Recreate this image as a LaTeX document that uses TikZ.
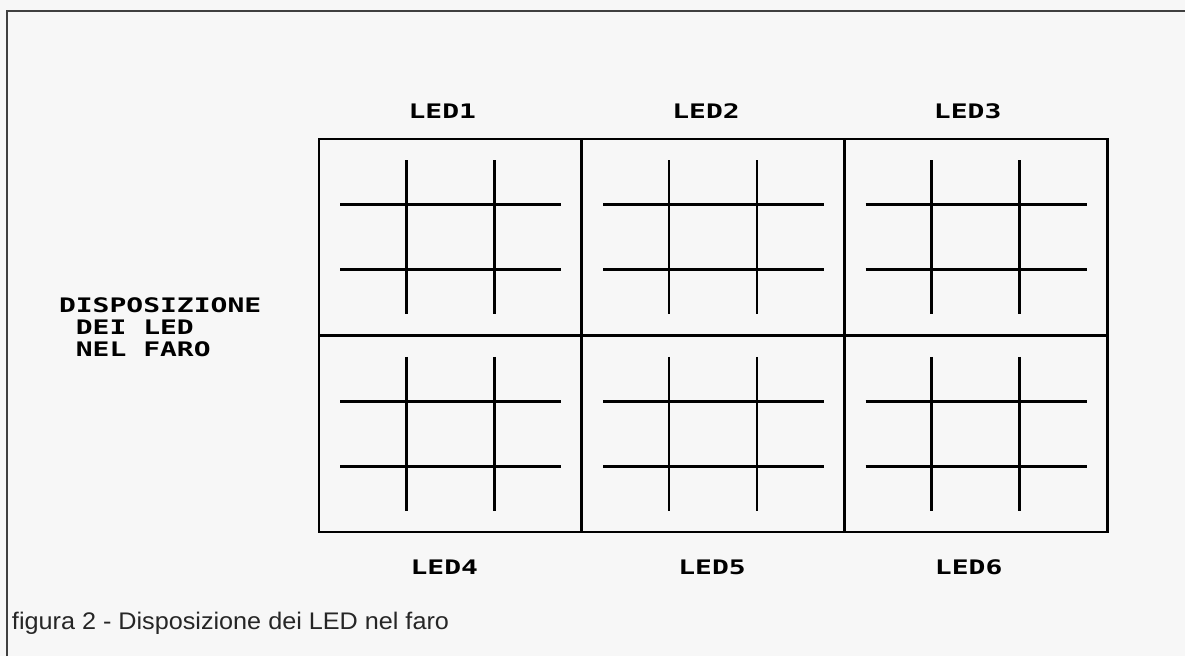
\documentclass[tikz,border=0pt]{standalone}
\usepackage{fontspec}
\setmainfont{Liberation Sans}
\newfontfamily\plotfont[FakeStretch=1.4]{DejaVu Sans Mono}
\usetikzlibrary{positioning}

\begin{document}
\begin{tikzpicture}[x=1pt, y=-1pt, every node/.style={inner sep=0pt, outer sep=0pt},
	ledcell/.style={draw, line width=2.9pt, minimum width=262.7pt, minimum height=196.5pt},
	ledlabel/.style={font=\plotfont\bfseries\fontsize{20}{22}\selectfont, text height=14.5pt, text depth=0pt},
	wire/.style={line width=2.9pt}]
	\useasboundingbox[fill=black!3] (0,0) rectangle (1185,656);
	\draw[line width=1.5pt, black!75] (7,656) -- (7,11) -- (1185,11);
	% the six LED cells
	\node[ledcell] (led1) at (450.3,237.25) {};
	\node[ledcell] (led2) at (713,237.25) {};
	\node[ledcell] (led3) at (975.7,237.25) {};
	\node[ledcell] (led4) at (450.3,433.75) {};
	\node[ledcell] (led5) at (713,433.75) {};
	\node[ledcell] (led6) at (975.7,433.75) {};
	\foreach \i in {1,...,6} {
		\draw[wire] ([shift={(-110,-32.5)}]led\i.center) -- ([shift={(111,-32.5)}]led\i.center);
		\draw[wire] ([shift={(-110,32.5)}]led\i.center) -- ([shift={(111,32.5)}]led\i.center);
		\draw[wire] ([shift={(-44,-77)}]led\i.center) -- ([shift={(-44,77)}]led\i.center);
		\draw[wire] ([shift={(44,-77)}]led\i.center) -- ([shift={(44,77)}]led\i.center);
	}
	\node[ledlabel, above=21pt of led1.north, xshift=-8pt] (lab1) {LED1};
	\node[ledlabel, above=21pt of led2.north, xshift=-7pt] (lab2) {LED2};
	\node[ledlabel, above=21pt of led3.north, xshift=-8pt] (lab3) {LED3};
	\node[ledlabel, below=28pt of led4.south, xshift=-6pt] (lab4) {LED4};
	\node[ledlabel, below=28pt of led5.south, xshift=-1pt] (lab5) {LED5};
	\node[ledlabel, below=28pt of led6.south, xshift=-7pt] (lab6) {LED6};
	\node[ledlabel, text height=, align=left, anchor=north west] (title) at (59,298) {DISPOSIZIONE\\\phantom{D}DEI LED\\\phantom{D}NEL FARO};
	\node[anchor=base west, font=\fontsize{24}{28}\selectfont, text=black!85, xscale=1.05, transform shape] (caption) at (12,629) {figura 2 - Disposizione dei LED nel faro};
\end{tikzpicture}
\end{document}
